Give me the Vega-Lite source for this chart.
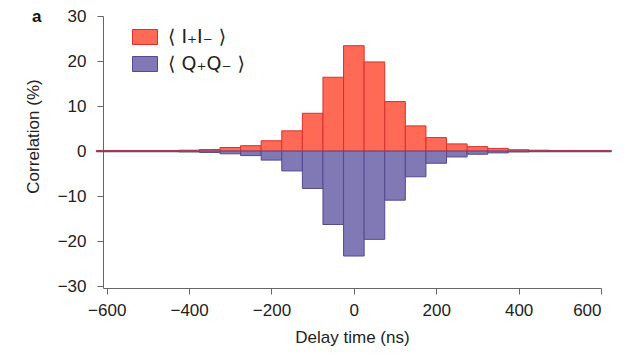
{
  "$schema": "https://vega.github.io/schema/vega-lite/v6.json",
  "width": 498,
  "height": 272,
  "autosize": "none",
  "padding": {"left": 103, "top": 16, "right": 34, "bottom": 66},
  "background": "white",
  "title": {"text": "a", "anchor": "start", "frame": "group", "dx": -71, "dy": 32, "offset": 0, "baseline": "alphabetic", "fontSize": 17, "fontWeight": "bold", "font": "Liberation Sans", "color": "#111111"},
  "config": {"view": {"stroke": null}, "font": "Liberation Sans"},
  "data": {"values": [
    {"series": "⟨ I₊I₋ ⟩", "start": -625, "end": -575, "value": 0.15},
    {"series": "⟨ I₊I₋ ⟩", "start": -575, "end": -525, "value": 0.15},
    {"series": "⟨ I₊I₋ ⟩", "start": -525, "end": -475, "value": 0.15},
    {"series": "⟨ I₊I₋ ⟩", "start": -475, "end": -425, "value": 0.15},
    {"series": "⟨ I₊I₋ ⟩", "start": -425, "end": -375, "value": 0.2},
    {"series": "⟨ I₊I₋ ⟩", "start": -375, "end": -325, "value": 0.35},
    {"series": "⟨ I₊I₋ ⟩", "start": -325, "end": -275, "value": 0.8},
    {"series": "⟨ I₊I₋ ⟩", "start": -275, "end": -225, "value": 1.2},
    {"series": "⟨ I₊I₋ ⟩", "start": -225, "end": -175, "value": 2.3},
    {"series": "⟨ I₊I₋ ⟩", "start": -175, "end": -125, "value": 4.5},
    {"series": "⟨ I₊I₋ ⟩", "start": -125, "end": -75, "value": 8.4},
    {"series": "⟨ I₊I₋ ⟩", "start": -75, "end": -25, "value": 16.4},
    {"series": "⟨ I₊I₋ ⟩", "start": -25, "end": 25, "value": 23.4},
    {"series": "⟨ I₊I₋ ⟩", "start": 25, "end": 75, "value": 19.8},
    {"series": "⟨ I₊I₋ ⟩", "start": 75, "end": 125, "value": 11.0},
    {"series": "⟨ I₊I₋ ⟩", "start": 125, "end": 175, "value": 5.6},
    {"series": "⟨ I₊I₋ ⟩", "start": 175, "end": 225, "value": 3.0},
    {"series": "⟨ I₊I₋ ⟩", "start": 225, "end": 275, "value": 1.6},
    {"series": "⟨ I₊I₋ ⟩", "start": 275, "end": 325, "value": 1.0},
    {"series": "⟨ I₊I₋ ⟩", "start": 325, "end": 375, "value": 0.6},
    {"series": "⟨ I₊I₋ ⟩", "start": 375, "end": 425, "value": 0.3},
    {"series": "⟨ I₊I₋ ⟩", "start": 425, "end": 475, "value": 0.2},
    {"series": "⟨ I₊I₋ ⟩", "start": 475, "end": 525, "value": 0.15},
    {"series": "⟨ I₊I₋ ⟩", "start": 525, "end": 575, "value": 0.15},
    {"series": "⟨ I₊I₋ ⟩", "start": 575, "end": 625, "value": 0.15},
    {"series": "⟨ Q₊Q₋ ⟩", "start": -625, "end": -575, "value": -0.15},
    {"series": "⟨ Q₊Q₋ ⟩", "start": -575, "end": -525, "value": -0.15},
    {"series": "⟨ Q₊Q₋ ⟩", "start": -525, "end": -475, "value": -0.15},
    {"series": "⟨ Q₊Q₋ ⟩", "start": -475, "end": -425, "value": -0.15},
    {"series": "⟨ Q₊Q₋ ⟩", "start": -425, "end": -375, "value": -0.2},
    {"series": "⟨ Q₊Q₋ ⟩", "start": -375, "end": -325, "value": -0.3},
    {"series": "⟨ Q₊Q₋ ⟩", "start": -325, "end": -275, "value": -0.6},
    {"series": "⟨ Q₊Q₋ ⟩", "start": -275, "end": -225, "value": -1.0},
    {"series": "⟨ Q₊Q₋ ⟩", "start": -225, "end": -175, "value": -2.0},
    {"series": "⟨ Q₊Q₋ ⟩", "start": -175, "end": -125, "value": -4.4},
    {"series": "⟨ Q₊Q₋ ⟩", "start": -125, "end": -75, "value": -8.3},
    {"series": "⟨ Q₊Q₋ ⟩", "start": -75, "end": -25, "value": -16.3},
    {"series": "⟨ Q₊Q₋ ⟩", "start": -25, "end": 25, "value": -23.3},
    {"series": "⟨ Q₊Q₋ ⟩", "start": 25, "end": 75, "value": -19.6},
    {"series": "⟨ Q₊Q₋ ⟩", "start": 75, "end": 125, "value": -10.9},
    {"series": "⟨ Q₊Q₋ ⟩", "start": 125, "end": 175, "value": -5.7},
    {"series": "⟨ Q₊Q₋ ⟩", "start": 175, "end": 225, "value": -2.7},
    {"series": "⟨ Q₊Q₋ ⟩", "start": 225, "end": 275, "value": -1.3},
    {"series": "⟨ Q₊Q₋ ⟩", "start": 275, "end": 325, "value": -0.7},
    {"series": "⟨ Q₊Q₋ ⟩", "start": 325, "end": 375, "value": -0.4},
    {"series": "⟨ Q₊Q₋ ⟩", "start": 375, "end": 425, "value": -0.2},
    {"series": "⟨ Q₊Q₋ ⟩", "start": 425, "end": 475, "value": -0.15},
    {"series": "⟨ Q₊Q₋ ⟩", "start": 475, "end": 525, "value": -0.15},
    {"series": "⟨ Q₊Q₋ ⟩", "start": 525, "end": 575, "value": -0.15},
    {"series": "⟨ Q₊Q₋ ⟩", "start": 575, "end": 625, "value": -0.15}
  ]},
  "mark": {"type": "bar", "strokeWidth": 1, "clip": false, "opacity": 1},
  "encoding": {
    "x": {
      "field": "start", "type": "quantitative",
      "scale": {"domain": [-609, 600], "nice": false, "zero": false},
      "axis": {
        "values": [-600, -400, -200, 0, 200, 400, 600],
        "title": "Delay time (ns)",
        "domainColor": "#666666", "tickColor": "#666666", "tickSize": 6,
        "labelFontSize": 17, "labelColor": "#222222", "labelPadding": 8,
        "titleFontSize": 17, "titleFontWeight": "normal", "titleColor": "#222222",
        "titlePadding": 11, "grid": false
      }
    },
    "x2": {"field": "end"},
    "y": {
      "field": "value", "type": "quantitative",
      "scale": {"domain": [-30.4, 30], "nice": false},
      "axis": {
        "values": [-30, -20, -10, 0, 10, 20, 30],
        "title": "Correlation (%)",
        "domainColor": "#666666", "tickColor": "#666666", "tickSize": 6,
        "labelFontSize": 17, "labelColor": "#222222", "labelPadding": 11,
        "titleFontSize": 17, "titleFontWeight": "normal", "titleColor": "#222222",
        "titleAngle": -90, "titleX": -70, "titleY": 120, "titleAlign": "center", "titleBaseline": "middle",
        "grid": false
      }
    },
    "y2": {"datum": 0},
    "color": {
      "field": "series", "type": "nominal",
      "scale": {"domain": ["⟨ I₊I₋ ⟩", "⟨ Q₊Q₋ ⟩"], "range": ["#fe6a55", "#8178b6"]},
      "legend": {"orient": "none", "legendX": 29, "legendY": 8, "title": null,
        "symbolType": "M-1,-0.6H1V0.6H-1Z", "symbolSize": 625, "symbolStrokeWidth": 1,
        "labelFontSize": 19, "labelOffset": 10, "rowPadding": 4, "labelColor": "#222222", "labelFont": "DejaVu Sans"}
    },
    "stroke": {
      "field": "series", "type": "nominal",
      "scale": {"domain": ["⟨ I₊I₋ ⟩", "⟨ Q₊Q₋ ⟩"], "range": ["#d8312c", "#55498f"]},
      "legend": {"orient": "none", "legendX": 29, "legendY": 8, "title": null,
        "symbolType": "M-1,-0.6H1V0.6H-1Z", "symbolSize": 625, "symbolStrokeWidth": 1,
        "labelFontSize": 19, "labelOffset": 10, "rowPadding": 4, "labelColor": "#222222", "labelFont": "DejaVu Sans"}
    }
  }
}
